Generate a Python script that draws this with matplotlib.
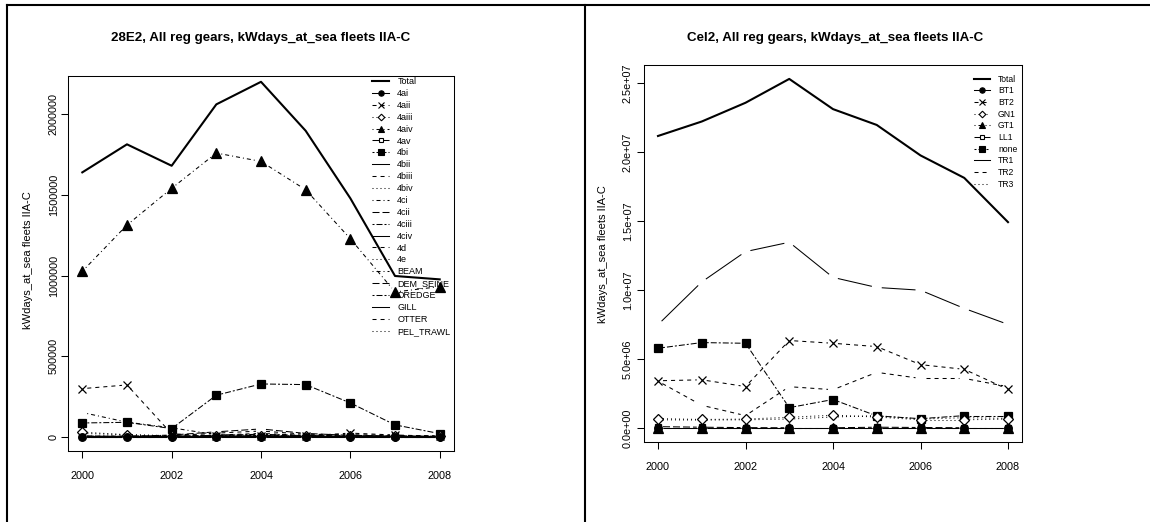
import matplotlib
matplotlib.use('Agg')
import matplotlib.pyplot as plt
from matplotlib.lines import Line2D

plt.rcParams['font.family'] = ['Liberation Sans', 'DejaVu Sans']
plt.rcParams['lines.scale_dashes'] = False

years = [2000, 2001, 2002, 2003, 2004, 2005, 2006, 2007, 2008]

# 28E2 panel
total_28e2 = [1640000, 1814000, 1681000, 2062000, 2202000, 1898000, 1479000, 997000, 976000]
names_28e2 = ['4ai', '4aii', '4aiii', '4aiv', '4av', '4bi', '4bii', '4biii', '4biv', '4ci',
              '4cii', '4ciii', '4civ', '4d', '4e', 'BEAM', 'DEM_SEINE', 'DREDGE', 'GILL',
              'OTTER', 'PEL_TRAWL']
s_4ai = [0, 0, 0, 0, 0, 0, 0, 0, 0]
s_4aii = [298000, 321000, 18000, 4000, 6000, 5000, 22000, 10000, 3000]
s_4aiii = [28000, 12000, 4000, 2000, 2000, 1000, 1000, 1000, 1000]
s_4aiv = [1026000, 1313000, 1541000, 1760000, 1708000, 1532000, 1228000, 898000, 931000]
s_4av = [3000, 2000, 1000, 1000, 1000, 1000, 1000, 1000, 1000]
s_4bi = [85000, 89000, 50000, 257000, 327000, 323000, 209000, 73000, 19000]
s_4bii = [1000, 1000, 1000, 2000, 3000, 2000, 1000, 1000, 1000]
s_4biii = [0, 2000, 6000, 22000, 35000, 15000, 12000, 8000, 3000]
s_4biv = [20000, 12000, 6000, 6000, 12000, 8000, 6000, 4000, 2000]
s_4ci = [150000, 90000, 55000, 12000, 6000, 4000, 3000, 2000, 2000]
s_4cii = [2000, 2000, 10000, 30000, 48000, 20000, 8000, 5000, 2000]
s_4ciii = [1000, 1000, 3000, 8000, 15000, 6000, 3000, 2000, 1000]
s_4civ = [0, 0, 1000, 1000, 2000, 1000, 1000, 0, 0]
s_4d = [2000, 1000, 1000, 3000, 5000, 3000, 2000, 1000, 1000]
s_4e = [1000, 1000, 1000, 1000, 2000, 1000, 1000, 1000, 0]
s_beam = [0, 0, 0, 1000, 1000, 1000, 0, 0, 0]
s_dem_seine = [1000, 1000, 1000, 2000, 3000, 2000, 1000, 1000, 1000]
s_dredge = [0, 0, 0, 0, 0, 0, 0, 0, 0]
s_gill = [1000, 1000, 1000, 1000, 1000, 1000, 1000, 1000, 1000]
s_otter = [3000, 2000, 3000, 10000, 20000, 8000, 5000, 3000, 2000]
s_pel_trawl = [5000, 3000, 2000, 3000, 5000, 3000, 2000, 2000, 1000]
series_28e2 = [s_4ai, s_4aii, s_4aiii, s_4aiv, s_4av, s_4bi, s_4bii, s_4biii, s_4biv, s_4ci,
               s_4cii, s_4ciii, s_4civ, s_4d, s_4e, s_beam, s_dem_seine, s_dredge, s_gill,
               s_otter, s_pel_trawl]
ticks_28e2 = [0, 500000, 1000000, 1500000, 2000000]
ticklabels_28e2 = ['0', '500000', '1000000', '1500000', '2000000']

# Cel2 panel
total_cel2 = [21190000, 22240000, 23600000, 25330000, 23140000, 21990000, 19780000, 18150000, 14940000]
names_cel2 = ['BT1', 'BT2', 'GN1', 'GT1', 'LL1', 'none', 'TR1', 'TR2', 'TR3']
s_bt1 = [0, 0, 0, 0, 0, 0, 0, 0, 0]
s_bt2 = [3430000, 3500000, 3010000, 6350000, 6150000, 5910000, 4600000, 4260000, 2800000]
s_gn1 = [680000, 620000, 650000, 780000, 930000, 800000, 600000, 600000, 650000]
s_gt1 = [0, 0, 0, 0, 0, 0, 0, 0, 0]
s_ll1 = [100000, 60000, 30000, 20000, 20000, 60000, 40000, 20000, 20000]
s_none = [5790000, 6200000, 6150000, 1480000, 2070000, 880000, 680000, 900000, 900000]
s_tr1 = [7500000, 10600000, 12800000, 13480000, 10930000, 10200000, 10000000, 8680000, 7520000]
s_tr2 = [3400000, 1650000, 900000, 3000000, 2780000, 4040000, 3600000, 3600000, 3000000]
s_tr3 = [600000, 580000, 600000, 650000, 800000, 900000, 650000, 750000, 700000]
series_cel2 = [s_bt1, s_bt2, s_gn1, s_gt1, s_ll1, s_none, s_tr1, s_tr2, s_tr3]
ticks_cel2 = [0, 5000000, 10000000, 15000000, 20000000, 25000000]
ticklabels_cel2 = ['0.0e+00', '5.0e+06', '1.0e+07', '1.5e+07', '2.0e+07', '2.5e+07']

ylabel = 'kWdays_at_sea fleets IIA-C'

# R style line types, in points
LTY = [
    '-',
    (0, (2.9, 2.9)),
    (0, (0.72, 2.16)),
    (0, (0.72, 2.16, 2.9, 2.16)),
    (0, (5.04, 2.16)),
    (0, (1.44, 1.44, 4.32, 1.44)),
]
# marker, filled, size
PCH = [('o', True, 5.5), ('x', True, 5.5), ('D', False, 4.8), ('^', True, 6.5),
       ('s', False, 5), ('s', True, 6)]

W, H = 1150, 522
fig = plt.figure(figsize=(W / 100, H / 100), dpi=100)


def line_b(ax, x, y, ls, gap=5.0, lw=0.75):
    # lines broken around each point, like type="b"
    pts = ax.transData.transform(list(zip(x, y)))
    inv = ax.transData.inverted()
    for p, q in zip(pts[:-1], pts[1:]):
        dx, dy = q[0] - p[0], q[1] - p[1]
        L = (dx * dx + dy * dy) ** 0.5
        if L <= 2 * gap:
            continue
        ux, uy = dx / L, dy / L
        a = inv.transform((p[0] + ux * gap, p[1] + uy * gap))
        b = inv.transform((q[0] - ux * gap, q[1] - uy * gap))
        ax.plot([a[0], b[0]], [a[1], b[1]], color='black', lw=lw, linestyle=ls,
                solid_capstyle='butt', dash_capstyle='butt')


def panel(box, title, total, names, series, ylim, ticks, ticklabels, ypad,
          leg_anchor, leg_fs, leg_spacing, title_x):
    l, t, r, b = box
    ax = fig.add_axes([l / W, 1 - b / H, (r - l) / W, (b - t) / H])
    ax.set_xlim(1999.68, 2008.32)
    ax.set_ylim(*ylim)

    ax.plot(years, total, color='black', lw=1.5)
    handles = [Line2D([], [], color='black', lw=1.5)]
    for i, vals in enumerate(series):
        ls = LTY[i % 6]
        line_b(ax, years, vals, ls)
        if i < len(PCH):
            m, filled, ms = PCH[i]
            # first gears end up on top where points overlap at zero
            ax.plot(years, vals, linestyle='none', marker=m, ms=ms,
                    mfc='black' if filled else 'white', mec='black', mew=0.9,
                    zorder=10 - i)
            handles.append(Line2D([], [], color='black', lw=0.75, linestyle=ls, marker=m,
                                  ms=ms * 0.7, mfc='black' if filled else 'white',
                                  mec='black', mew=0.8))
        else:
            handles.append(Line2D([], [], color='black', lw=0.75, linestyle=ls))

    ax.set_xticks([2000, 2002, 2004, 2006, 2008])
    ax.set_xticklabels(['2000', '2002', '2004', '2006', '2008'])
    ax.set_yticks(ticks)
    ax.set_yticklabels(ticklabels, rotation=90, va='center')
    ax.tick_params(axis='both', length=5, width=0.75, labelsize=7.8, color='black')
    ax.tick_params(axis='x', pad=9.5)
    ax.tick_params(axis='y', pad=ypad)
    for sp in ax.spines.values():
        sp.set_linewidth(0.75)

    ax.legend(handles, ['Total'] + names, loc='upper left', bbox_to_anchor=leg_anchor,
              frameon=False, fontsize=leg_fs, handlelength=1.9, handletextpad=0.9,
              labelspacing=leg_spacing, borderpad=0, borderaxespad=0, numpoints=1)

    fig.text(title_x / W, 1 - 38 / H, title, ha='center', va='center',
             fontsize=9.6, fontweight='bold')
    return ax


panel((68, 76, 454, 451), '28E2, All reg gears, kWdays_at_sea fleets IIA-C',
      total_28e2, names_28e2, series_28e2, (-89000, 2238000), ticks_28e2,
      ticklabels_28e2, 1.7, (0.7876, 0.997), 6.5, 0.32, 261)
fig.text(28 / W, 1 - 260 / H, ylabel, rotation=90, ha='center', va='center', fontsize=8)

panel((644, 65, 1022, 442), 'Cel2, All reg gears, kWdays_at_sea fleets IIA-C',
      total_cel2, names_cel2, series_cel2, (-1013000, 26340000), ticks_cel2,
      ticklabels_cel2, 3.0, (0.873, 0.974), 6.2, 0.31, 835)
fig.text(603 / W, 1 - 254 / H, ylabel, rotation=90, ha='center', va='center', fontsize=8)

# outer frame lines
for xs, ys in [([7, 7], [5, H]), ([7, W], [5, 5]), ([585, 585], [5, H])]:
    fig.add_artist(Line2D([x / W for x in xs], [1 - y / H for y in ys],
                          transform=fig.transFigure, color='black', lw=1.5))

fig.savefig('out.png', dpi=100)
